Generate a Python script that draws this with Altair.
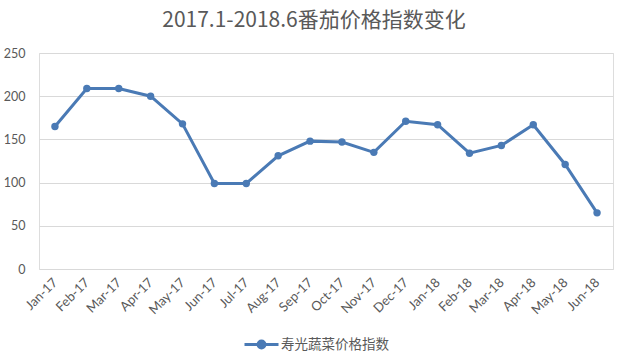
import altair as alt
import pandas as pd

months = ["Jan-17", "Feb-17", "Mar-17", "Apr-17", "May-17", "Jun-17", "Jul-17", "Aug-17",
          "Sep-17", "Oct-17", "Nov-17", "Dec-17", "Jan-18", "Feb-18", "Mar-18", "Apr-18",
          "May-18", "Jun-18"]
values = [165, 209, 209, 200, 168, 99, 99, 131, 148, 147, 135, 171, 167, 134, 143, 167, 121, 65]
series = ["寿光蔬菜价格指数"] * len(months)

df = pd.DataFrame({"month": months, "value": values, "series": series})

BLUE = "#4a7ab5"
GREY = "#595959"

x = alt.X("month:N", sort=months, title=None,
          scale=alt.Scale(type="point", padding=0.5),
          axis=alt.Axis(labelAngle=-45, labelAlign="right", labelBaseline="middle",
                        labelFontSize=13, labelColor=GREY, labelFont="Lato",
                        ticks=False, domain=False, grid=False, labelPadding=11))
y = alt.Y("value:Q", title=None,
          scale=alt.Scale(domain=[0, 250], nice=False),
          axis=alt.Axis(values=[0, 50, 100, 150, 200, 250], labelFontSize=12.5,
                        labelColor=GREY, labelFont="Lato", ticks=False, domain=False,
                        gridColor="#d9d9d9", labelPadding=14))

sym = "M-1,0H1M-0.2,0A0.2,0.2 0 1,1 0.2,0A0.2,0.2 0 1,1 -0.2,0Z"

color = alt.Color("series:N", title=None,
                  scale=alt.Scale(range=[BLUE]),
                  legend=alt.Legend(orient="none", legendX=204, legendY=273,
                                    symbolType=sym, symbolSize=1156,
                                    symbolStrokeWidth=3, symbolFillColor=BLUE,
                                    symbolStrokeColor=BLUE,
                                    labelFont="Noto Sans CJK SC", labelFontSize=13.5,
                                    labelColor=GREY, labelOffset=1))

line = alt.Chart(df).mark_line(strokeWidth=3).encode(x=x, y=y, color=color)
pts = alt.Chart(df).mark_circle(size=55, opacity=1).encode(
    x=x, y=y, color=alt.Color("series:N", scale=alt.Scale(range=[BLUE]), legend=None))

chart = (line + pts).properties(
    width=574, height=216,
    title=alt.TitleParams("2017.1-2018.6番茄价格指数变化", font="Noto Sans CJK SC",
                          fontSize=21, fontWeight="normal", color=GREY,
                          anchor="middle", offset=16, dx=-12),
    autosize=alt.AutoSizeParams(type="none"),
    padding={"left": 39, "top": 53, "right": 21, "bottom": 88},
).configure_view(stroke=None).configure(background="white")

chart.save("out.html", embed_options={"renderer": "svg", "actions": False})
